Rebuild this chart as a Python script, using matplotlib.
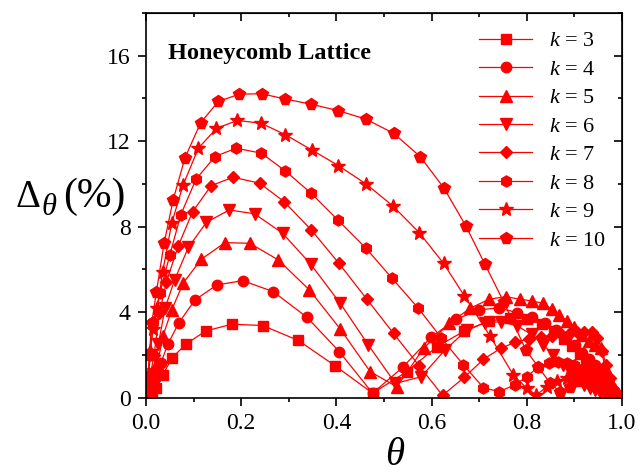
import matplotlib.pyplot as plt
from matplotlib.ticker import MultipleLocator

plt.rcParams['font.family'] = ['Liberation Serif', 'DejaVu Serif']
plt.rcParams['mathtext.fontset'] = 'custom'
plt.rcParams['mathtext.rm'] = 'Liberation Serif'
plt.rcParams['mathtext.it'] = 'Liberation Serif:italic'
plt.rcParams['mathtext.bf'] = 'Liberation Serif:bold'

# 数据
k_values = [3, 4, 5, 6, 7, 8, 9, 10]

theta_k3 = [0.002, 0.006, 0.012, 0.022, 0.035, 0.055, 0.084, 0.125, 0.180, 0.245, 0.320, 0.397,
            0.476, 0.548, 0.611, 0.668, 0.721, 0.765, 0.801, 0.831, 0.857, 0.878, 0.896, 0.911,
            0.924, 0.935, 0.945, 0.954, 0.962, 0.969, 0.975, 0.981, 0.986, 0.991]
delta_k3 = [0.02, 0.1, 0.25, 0.43, 1.05, 1.86, 2.5, 3.11, 3.43, 3.37, 2.67, 1.49,
            0.2, 1.21, 2.38, 3.1, 3.58, 3.72, 3.68, 3.44, 3.1, 2.75, 2.4, 2.05,
            1.75, 1.45, 1.2, 0.95, 0.75, 0.55, 0.4, 0.25, 0.12, 0.04]

theta_k4 = [0.002, 0.006, 0.012, 0.020, 0.031, 0.046, 0.069, 0.103, 0.149, 0.203, 0.267, 0.338,
            0.406, 0.476, 0.539, 0.599, 0.651, 0.700, 0.742, 0.779, 0.810, 0.838, 0.862, 0.883,
            0.901, 0.917, 0.931, 0.943, 0.953, 0.962, 0.970, 0.977, 0.983, 0.988, 0.992]
delta_k4 = [0.03, 0.2, 0.5, 0.95, 1.6, 2.5, 3.5, 4.57, 5.27, 5.47, 4.96, 3.76,
            2.15, 0.2, 1.41, 2.82, 3.66, 4.1, 4.2, 3.97, 3.78, 3.5, 3.15, 2.8,
            2.45, 2.1, 1.8, 1.5, 1.2, 0.95, 0.7, 0.5, 0.3, 0.15, 0.05]

theta_k5 = [0.002, 0.006, 0.014, 0.024, 0.036, 0.054, 0.078, 0.116, 0.166, 0.218, 0.278, 0.343,
            0.408, 0.471, 0.527, 0.583, 0.637, 0.681, 0.721, 0.756, 0.786, 0.810, 0.835, 0.852,
            0.868, 0.884, 0.899, 0.915, 0.930, 0.943, 0.956, 0.964, 0.971, 0.978, 0.984, 0.990]
delta_k5 = [0.05, 0.3, 0.8, 1.6, 2.9, 4.1, 5.35, 6.47, 7.25, 7.22, 6.44, 5.04,
            3.21, 1.21, 0.5, 2.3, 3.47, 4.18, 4.6, 4.72, 4.6, 4.52, 4.41, 4.13,
            3.86, 3.6, 3.32, 2.93, 2.65, 2.45, 2.3, 1.44, 1.0, 0.59, 0.3, 0.1]

theta_k6 = [0.002, 0.007, 0.015, 0.026, 0.040, 0.060, 0.089, 0.127, 0.175, 0.228, 0.287, 0.346,
            0.408, 0.467, 0.524, 0.578, 0.628, 0.674, 0.712, 0.746, 0.780, 0.810, 0.835, 0.856,
            0.875, 0.892, 0.907, 0.920, 0.932, 0.943, 0.953, 0.962, 0.970, 0.977, 0.983, 0.989]
delta_k6 = [0.05, 0.4, 1.1, 2.5, 4.18, 5.5, 7.03, 8.2, 8.78, 8.6, 7.69, 6.24,
            4.41, 2.46, 0.66, 0.97, 2.22, 3.16, 3.5, 3.55, 3.35, 2.95, 2.45, 1.99,
            1.52, 1.15, 0.85, 0.6, 0.45, 0.35, 0.28, 0.2, 0.14, 0.09, 0.05, 0.02]

theta_k7 = [0.002, 0.007, 0.017, 0.028, 0.043, 0.068, 0.098, 0.137, 0.183, 0.239, 0.290, 0.347,
            0.405, 0.464, 0.520, 0.574, 0.623, 0.669, 0.709, 0.745, 0.775, 0.805, 0.830, 0.852,
            0.872, 0.890, 0.906, 0.921, 0.936, 0.948, 0.958, 0.967, 0.975, 0.982, 0.988]
delta_k7 = [0.1, 0.8, 2.0, 3.94, 5.42, 7.11, 8.7, 9.92, 10.31, 10.03, 9.17, 7.85,
            6.29, 4.6, 3.0, 1.48, 0.1, 0.95, 1.79, 2.3, 2.58, 2.75, 2.85, 2.9,
            2.95, 3.0, 3.05, 3.08, 3.08, 2.8, 2.2, 1.5, 0.9, 0.4, 0.1]

theta_k8 = [0.002, 0.005, 0.009, 0.015, 0.029, 0.050, 0.073, 0.105, 0.145, 0.189, 0.242, 0.292,
            0.347, 0.403, 0.462, 0.517, 0.572, 0.620, 0.667, 0.709, 0.742, 0.775, 0.800, 0.824,
            0.846, 0.866, 0.884, 0.900, 0.915, 0.928, 0.940, 0.951, 0.960, 0.968, 0.976, 0.982, 0.988]
delta_k8 = [0.1, 0.9, 2.0, 3.55, 4.88, 6.67, 8.55, 10.22, 11.28, 11.67, 11.44, 10.62,
            9.56, 8.31, 6.99, 5.58, 4.18, 2.8, 1.52, 0.46, 0.27, 0.6, 0.97, 1.44,
            1.6, 1.65, 1.6, 1.5, 1.35, 1.2, 1.0, 0.8, 0.6, 0.45, 0.3, 0.18, 0.08]

theta_k9 = [0.002, 0.004, 0.009, 0.015, 0.024, 0.035, 0.054, 0.078, 0.110, 0.148, 0.192, 0.242,
            0.293, 0.348, 0.404, 0.462, 0.518, 0.574, 0.625, 0.669, 0.722, 0.772, 0.800, 0.820,
            0.842, 0.864, 0.884, 0.902, 0.918, 0.932, 0.944, 0.955, 0.964, 0.972, 0.979, 0.985, 0.990]
delta_k9 = [0.1, 0.9, 2.2, 3.2, 4.18, 5.89, 8.16, 9.95, 11.67, 12.6, 12.97, 12.84,
            12.3, 11.59, 10.86, 10.0, 8.98, 7.72, 6.28, 4.75, 2.9, 1.05, 0.43, 0.12,
            0.5, 0.75, 0.92, 1.0, 1.0, 0.95, 0.85, 0.7, 0.55, 0.4, 0.28, 0.15, 0.06]

theta_k10 = [0.002, 0.004, 0.007, 0.012, 0.022, 0.038, 0.057, 0.082, 0.115, 0.152, 0.196, 0.243,
             0.293, 0.347, 0.404, 0.462, 0.520, 0.576, 0.626, 0.672, 0.712, 0.752, 0.798, 0.824,
             0.848, 0.870, 0.890, 0.907, 0.922, 0.936, 0.948, 0.958, 0.967, 0.975, 0.982, 0.988]
delta_k10 = [0.1, 1.0, 2.0, 3.47, 4.96, 7.22, 9.25, 11.23, 12.87, 13.86, 14.2, 14.22,
             13.97, 13.73, 13.43, 13.03, 12.37, 11.28, 9.8, 8.03, 6.24, 4.45, 2.22, 1.44,
             0.7, 0.25, 0.5, 0.75, 0.85, 0.8, 0.7, 0.55, 0.4, 0.28, 0.15, 0.06]

thetas = [theta_k3, theta_k4, theta_k5, theta_k6, theta_k7, theta_k8, theta_k9, theta_k10]
deltas = [delta_k3, delta_k4, delta_k5, delta_k6, delta_k7, delta_k8, delta_k9, delta_k10]

# 样式
markers = ['s', 'o', '^', 'v', 'D', 'h', '*', 'p']
msizes = [6.5, 7.5, 8, 8, 6, 8, 10, 8.5]
red = '#ff0000'

W, H = 639, 475
fig = plt.figure(figsize=(W / 100, H / 100), dpi=100)
ax = fig.add_axes([146 / W, 1 - 397.5 / H, 476 / W, 384.5 / H])

for k, th, de, m, ms in zip(k_values, thetas, deltas, markers, msizes):
    ax.plot(th, de, color=red, lw=0.9, marker=m, ms=ms, mec=red, mfc=red,
            label=f'$k$ = {k}')

ax.set_xlim(0, 1)
ax.set_ylim(0, 18)
ax.xaxis.set_major_locator(MultipleLocator(0.2))
ax.xaxis.set_minor_locator(MultipleLocator(0.1))
ax.yaxis.set_major_locator(MultipleLocator(4))
ax.yaxis.set_minor_locator(MultipleLocator(2))
ax.xaxis.set_major_formatter(lambda v, p: f'{v:.1f}')
ax.tick_params(which='both', direction='out', width=1.2, labelsize=17)
ax.tick_params(which='major', length=6, pad=5)
ax.tick_params(which='minor', length=3)
for s in ax.spines.values():
    s.set_linewidth(1.2)

# 上边和右边的刻度朝内
top = ax.secondary_xaxis('top')
top.xaxis.set_major_locator(MultipleLocator(0.2))
top.xaxis.set_minor_locator(MultipleLocator(0.1))
top.tick_params(which='both', direction='in', width=1.2, labeltop=False)
top.tick_params(which='major', length=6)
top.tick_params(which='minor', length=3)
right = ax.secondary_yaxis('right')
right.yaxis.set_major_locator(MultipleLocator(4))
right.yaxis.set_minor_locator(MultipleLocator(2))
right.tick_params(which='both', direction='in', width=1.2, labelright=False)
right.tick_params(which='major', length=6)
right.tick_params(which='minor', length=3)

ax.text(0.046, 0.88, 'Honeycomb Lattice', transform=ax.transAxes,
        fontsize=17.5, fontweight='bold', va='baseline')

# 纵轴标题: Δ, 下标 θ, (%)
fig.text(15 / W, 1 - 207 / H, r'$\Delta$', fontsize=28, va='baseline', ha='left')
fig.text(41 / W, 1 - 215 / H, r'$\theta$', fontsize=22, va='baseline', ha='left')
fig.text(63 / W, 1 - 207 / H, '(%)', fontsize=30, va='baseline', ha='left')
# 横轴标题
fig.text(395 / W, 0.002, r'$\theta$', fontsize=28, va='bottom', ha='center')

ax.legend(loc='upper left', bbox_to_anchor=(0.70, 0.9535), frameon=False, fontsize=16,
          handlelength=2.39, handletextpad=0.77, labelspacing=0.355, borderpad=0,
          borderaxespad=0)

fig.savefig('out.png', dpi=100)
